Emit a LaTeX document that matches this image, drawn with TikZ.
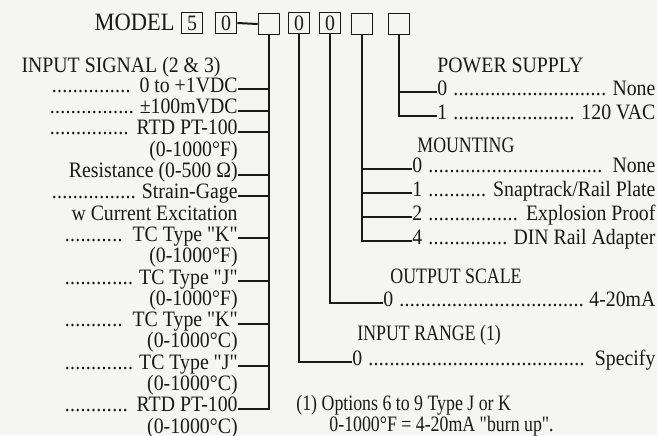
\documentclass[tikz,border=0pt]{standalone}
\usepackage{fontspec}
\setmainfont{Liberation Serif}
\newfontfamily\diagfont{Liberation Serif}[FakeStretch=0.9]
\usetikzlibrary{positioning}
\definecolor{paper}{RGB}{245,245,243}
\definecolor{ink}{RGB}{25,25,25}
% dotted leaders for the option rows
\newcommand\leadfill{\leaders\hbox to 0.24em{\hss.\hss}\hfill}
\newcommand\lrow[2]{\hbox to #1{\leadfill\ #2}}
\newcommand\rrow[3]{\hbox to #1{#2 \leadfill\ #3}}
\newcommand\narrow[1]{\scalebox{0.9}[1]{#1}}

\begin{document}
\begin{tikzpicture}[x=0.5pt,y=-0.5pt,font=\fontsize{11}{13}\diagfont,
    every node/.style={inner sep=0pt,text=ink},
    rowtext/.style={text height=5pt,text depth=2pt},
    lrowtext/.style={rowtext,anchor=base east},
    rrowtext/.style={rowtext,anchor=base west},
    digitbox/.style={draw=ink,line width=0.8pt,minimum width=10.5pt,minimum height=10.5pt},
    bracket/.style={draw=ink,line width=1pt}]
  \fill[paper] (0,0) rectangle (657,435);
  \useasboundingbox (0,0) rectangle (657,435);

  % model code boxes
  \node[font=\fontsize{12.5}{14}\diagfont,anchor=base east] (model) at (175,30) {MODEL};
  \node[digitbox] (d1) at (192,23) {5};
  \node[digitbox] (d2) at (226,23) {0};
  \node[digitbox] (d3) at (269,24) {};
  \node[digitbox] (d4) at (299,23) {0};
  \node[digitbox] (d5) at (330,23) {0};
  \node[digitbox] (d6) at (362,24) {};
  \node[digitbox] (d7) at (399,24) {};
  \draw[bracket] (d2.east) -- (d3.west);

  % input signal
  \node[anchor=base east] (sigtitle) at (221,72) {INPUT SIGNAL (2 \& 3)};
  \node[lrowtext] (sig1) at (238,92.3) {\lrow{93pt}{0 to +1VDC}};
  \node[lrowtext] (sig2) at (238,113.6) {\lrow{94pt}{±100mVDC}};
  \node[lrowtext] (sig3) at (238,134.9) {\lrow{94pt}{RTD PT-100}};
  \node[lrowtext] (sig4) at (238,156.2) {(0-1000°F)};
  \node[lrowtext] (sig5) at (238,177.5) {Resistance (0-500 Ω)};
  \node[lrowtext] (sig6) at (238,198.8) {\lrow{93pt}{Strain-Gage}};
  \node[lrowtext] (sig7) at (238,220.1) {w Current Excitation};
  \node[lrowtext] (sig8) at (238,241.4) {\lrow{86.5pt}{TC Type "K"}};
  \node[lrowtext] (sig9) at (238,262.7) {(0-1000°F)};
  \node[lrowtext] (sig10) at (238,284) {\lrow{86.5pt}{TC Type "J"}};
  \node[lrowtext] (sig11) at (238,305.3) {(0-1000°F)};
  \node[lrowtext] (sig12) at (238,326.6) {\lrow{86.5pt}{TC Type "K"}};
  \node[lrowtext] (sig13) at (238,347.9) {(0-1000°C)};
  \node[lrowtext] (sig14) at (238,369.2) {\lrow{86.5pt}{TC Type "J"}};
  \node[lrowtext] (sig15) at (238,390.5) {(0-1000°C)};
  \node[lrowtext] (sig16) at (238,411.8) {\lrow{86.5pt}{RTD PT-100}};
  \node[lrowtext] (sig17) at (238,433.1) {(0-1000°C)};
  \draw[bracket] (d3.south) |- (sig16.east);
  \foreach \n in {sig1,sig2,sig3,sig5,sig6,sig8,sig10,sig12,sig14}
    \draw[bracket] (\n.east) -- (\n.east -| d3.south);

  % power supply
  \node[anchor=base west] (pwrtitle) at (437,72) {POWER SUPPLY};
  \node[rrowtext] (pwr1) at (437,95) {\rrow{109pt}{0}{None}};
  \node[rrowtext] (pwr2) at (437,119) {\rrow{109pt}{1}{120 VAC}};
  \draw[bracket] (d7.south) |- (pwr2.west);
  \draw[bracket] (pwr1.west -| d7.south) -- (pwr1.west);

  % mounting
  \node[anchor=base west] (mnttitle) at (417,152) {\narrow{MOUNTING}};
  \node[rrowtext] (mnt1) at (412,172) {\rrow{121.5pt}{0}{None}};
  \node[rrowtext] (mnt2) at (412,196) {\rrow{121.5pt}{1}{Snaptrack/Rail Plate}};
  \node[rrowtext] (mnt3) at (412,220) {\rrow{121.5pt}{2}{Explosion Proof}};
  \node[rrowtext] (mnt4) at (412,244) {\rrow{121.5pt}{4}{DIN Rail Adapter}};
  \draw[bracket] (d6.south) |- (mnt4.west);
  \foreach \n in {mnt1,mnt2,mnt3}
    \draw[bracket] (\n.west -| d6.south) -- (\n.west);

  % output scale
  \node[anchor=base west] (outtitle) at (390,283) {\narrow{OUTPUT SCALE}};
  \node[rrowtext] (out1) at (383,306) {\rrow{136pt}{0}{4-20mA}};
  \draw[bracket] (d5.south) |- (out1.west);

  % input range
  \node[anchor=base west] (rngtitle) at (357,340) {\narrow{INPUT RANGE (1)}};
  \node[rrowtext] (rng1) at (352,365) {\rrow{151.5pt}{0}{Specify}};
  \draw[bracket] (d4.south) |- (rng1.west);

  % footnote
  \node[anchor=base west] (note1) at (296,410) {\narrow{(1) Options 6 to 9 Type J or K}};
  \node[anchor=base west] (note2) at (329,431) {\narrow{0-1000°F = 4-20mA "burn up".}};
\end{tikzpicture}
\end{document}
